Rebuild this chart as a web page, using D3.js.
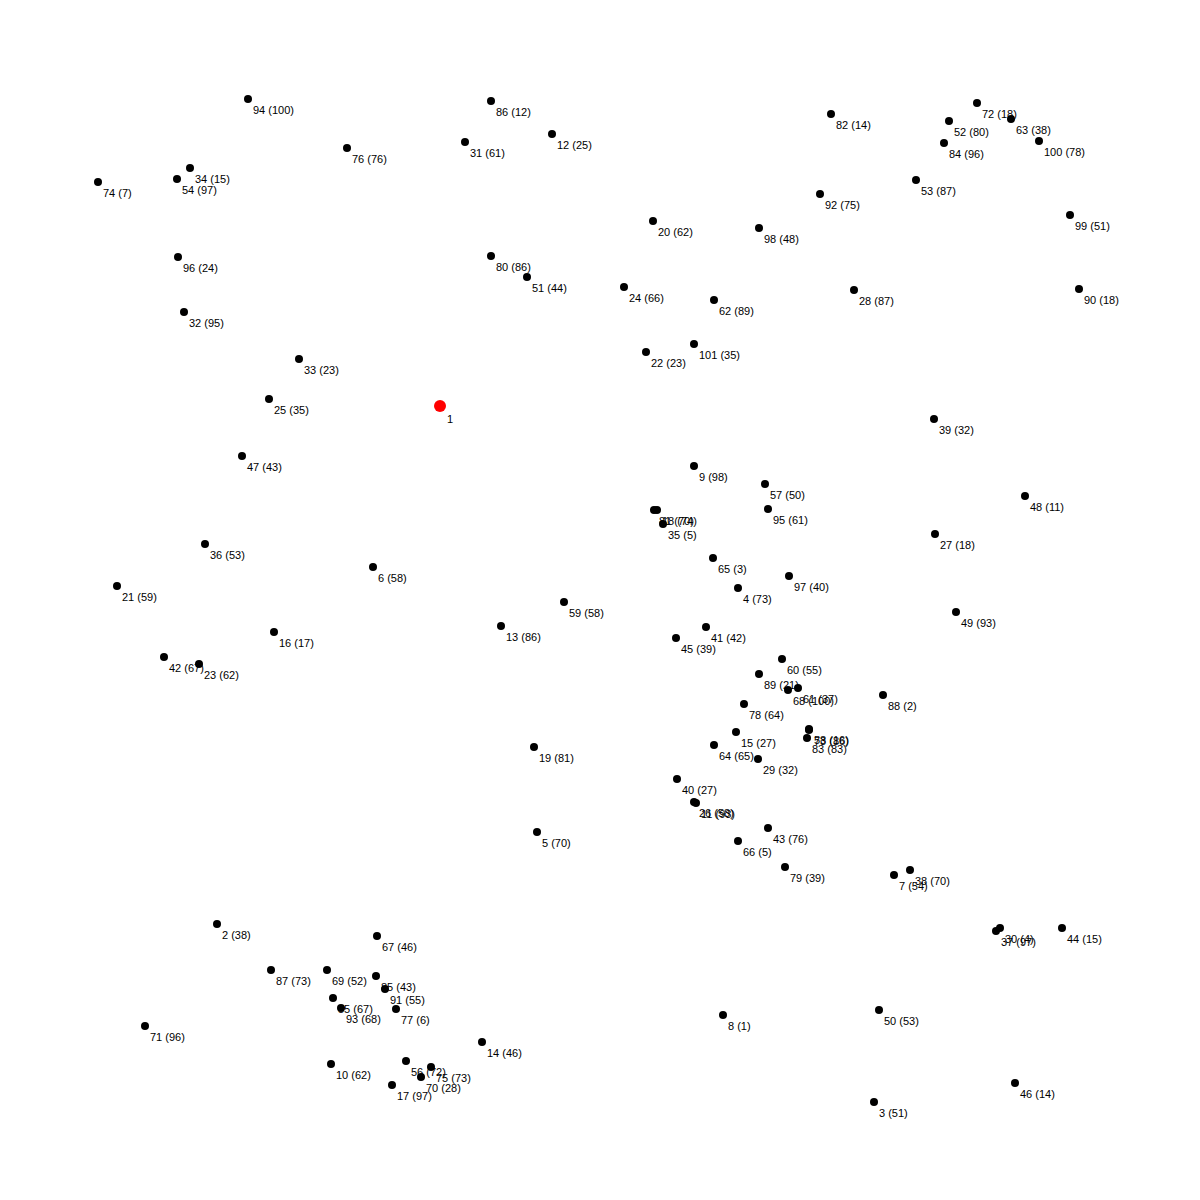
<!DOCTYPE html>
<html>
<head>
<meta charset="utf-8">
<script src="https://cdn.jsdelivr.net/npm/d3@7"></script>
<style>
html, body { margin: 0; padding: 0; background: #fff; }
svg { display: block; }
</style>
</head>
<body>
<svg id="chart" width="1200" height="1200"></svg>
<script>
// Node ids (1 = depot)
const ids = d3.range(1, 102);
// X coordinates (data units)
const xs = [340,117,774,638,437,273,794,623,594,231,596,452,401,382,636,174,292,557,434,553,
            17,546,99,524,169,594,835,754,658,900,365,84,199,90,563,105,896,810,834,577,
            606,64,668,962,576,915,142,925,856,779,427,849,816,77,233,306,665,709,464,682,
            698,614,911,614,613,638,277,688,227,321,45,877,709,-2,331,247,296,644,685,391,
            554,731,707,844,276,391,171,783,659,979,285,720,241,148,668,78,689,659,970,939,594];
// Y coordinates (data units)
const ys = [306,824,1002,488,732,467,775,915,366,964,703,34,526,942,632,532,985,410,647,121,
            486,252,564,187,299,702,434,190,659,828,42,212,259,68,424,444,831,770,319,679,
            527,557,728,828,538,983,356,396,512,910,177,21,80,79,898,961,384,629,502,559,
            588,200,19,645,458,741,836,590,870,977,926,3,630,82,967,48,909,604,767,156,
            410,14,638,43,876,1,870,595,574,189,889,94,908,-1,409,157,476,128,115,41,244];
// Demands (depot has none)
const demands = [null,38,51,73,70,58,54,1,98,62,93,25,86,46,27,17,97,74,81,62,
                 59,23,62,66,35,58,18,87,32,4,61,95,23,15,5,53,97,70,32,27,
                 42,67,76,15,39,14,43,11,93,53,44,80,87,97,67,72,50,16,58,55,
                 37,89,38,65,3,5,46,100,52,28,96,18,86,7,73,76,6,64,39,86,
                 70,14,83,96,43,12,73,2,21,18,55,75,68,100,61,24,40,48,51,78,35];

const nodes = ids.map((id, i) => ({ id, x: xs[i], y: ys[i], demand: demands[i], depot: id === 1 }));

const svg = d3.select("#chart");
const xScale = d3.scaleLinear().domain([0, 1000]).range([100, 1100]);
const yScale = d3.scaleLinear().domain([0, 1000]).range([100, 1100]);

// labels first
svg.append("g").selectAll("text").data(nodes).join("text")
  .attr("x", d => xScale(d.x) + (d.depot ? 7 : 5))
  .attr("y", d => yScale(d.y) + (d.depot ? 17 : 15))
  .attr("font-family", "Liberation Sans, Arial, sans-serif")
  .attr("font-size", 11)
  .attr("fill", "#000")
  .text(d => d.depot ? String(d.id) : `${d.id} (${d.demand})`);

// customer points
svg.append("g").selectAll("circle").data(nodes.filter(d => !d.depot)).join("circle")
  .attr("cx", d => xScale(d.x))
  .attr("cy", d => yScale(d.y))
  .attr("r", 4)
  .attr("fill", "#000");

// depot
svg.append("g").selectAll("circle").data(nodes.filter(d => d.depot)).join("circle")
  .attr("cx", d => xScale(d.x))
  .attr("cy", d => yScale(d.y))
  .attr("r", 6)
  .attr("fill", "#ff0000");
</script>
</body>
</html>
